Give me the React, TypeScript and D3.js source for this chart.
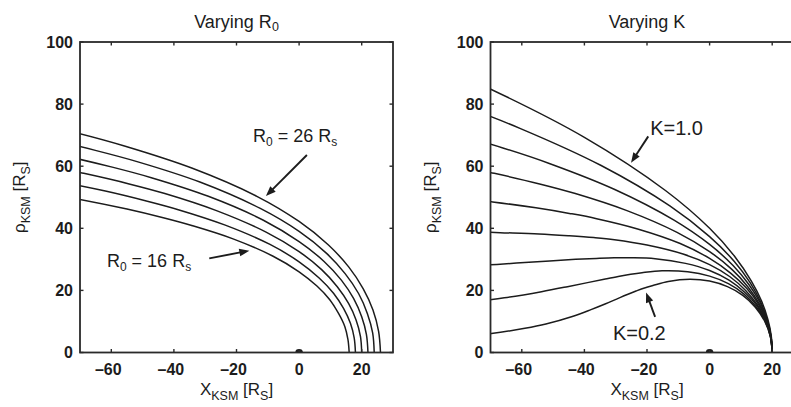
import React from 'react';
import * as d3 from 'd3';

// ---------- data ----------
const xTicks = [-60, -40, -20, 0, 20];
const yTicks = [0, 20, 40, 60, 80, 100];
const xDomain: [number, number] = [-70, 30];
const yDomain: [number, number] = [0, 100];

// Left panel: varying stand-off distance R0 (K fixed)
const r0Values = [16, 18, 20, 22, 24, 26];
const curveR0_16 = [[16,0],[15.6,4.2],[14.6,8.4],[12.6,12.6],[9.8,17.0],[5.7,21.4],[0,26.0],[-8.3,31.0],[-21.1,36.6],[-34.3,40.9],[-43.4,43.4],[-55.0,46.2],[-70.5,49.4],[-91.9,53.1]];
const curveR0_18 = [[18,0],[17.6,4.7],[16.4,9.4],[14.2,14.2],[11.0,19.1],[6.4,24.0],[0,29.2],[-9.3,34.8],[-23.8,41.1],[-38.6,46.0],[-48.8,48.8],[-61.9,52.0],[-79.3,55.5],[-103.4,59.7]];
const curveR0_20 = [[20,0],[19.6,5.2],[18.2,10.5],[15.8,15.8],[12.2,21.2],[7.2,26.7],[0,32.5],[-10.4,38.7],[-26.4,45.7],[-42.9,51.2],[-54.3,54.3],[-68.8,57.7],[-88.1,61.7]];
const curveR0_22 = [[22,0],[21.5,5.8],[20.0,11.5],[17.4,17.4],[13.5,23.3],[7.9,29.4],[0,35.7],[-11.4,42.6],[-29.0,50.3],[-47.2,56.3],[-59.7,59.7],[-75.7,63.5],[-96.9,67.9]];
const curveR0_24 = [[24,0],[23.5,6.3],[21.8,12.6],[19.0,19.0],[14.7,25.4],[8.6,32.1],[0,39.0],[-12.4,46.4],[-31.7,54.9],[-51.5,61.4],[-65.1,65.1],[-82.6,69.3]];
const curveR0_26 = [[26,0],[25.4,6.8],[23.6,13.7],[20.5,20.5],[15.9,27.5],[9.3,34.7],[0,42.2],[-13.5,50.3],[-34.3,59.4],[-55.8,66.5],[-70.6,70.6],[-89.5,75.1]];
const r0Curves = [curveR0_16, curveR0_18, curveR0_20, curveR0_22, curveR0_24, curveR0_26];

// Right panel: varying flaring exponent K (R0 = 20)
const kValues = [1.0, 0.9, 0.8, 0.7, 0.6, 0.5, 0.4, 0.3, 0.2];
const curveK10 = [[20,0],[19.7,5.3],[18.6,10.7],[16.6,16.6],[13.3,23.1],[8.2,30.7],[0,40.0],[-14.0,52.1],[-40.0,69.3],[-72.0,85.8],[-96.6,96.6]];
const curveK09 = [[20,0],[19.6,5.3],[18.4,10.6],[16.3,16.3],[13.0,22.4],[7.9,29.3],[0,37.3],[-12.7,47.2],[-34.8,60.3],[-60.6,72.2],[-79.7,79.7]];
const curveK08 = [[20,0],[19.6,5.2],[18.3,10.6],[16.1,16.1],[12.6,21.8],[7.5,28.0],[0,34.8],[-11.5,42.7],[-30.3,52.5],[-51.0,60.8],[-65.8,65.8],[-85.3,71.5]];
const curveK07 = [[20,0],[19.6,5.2],[18.2,10.5],[15.8,15.8],[12.2,21.2],[7.2,26.7],[0,32.5],[-10.4,38.7],[-26.4,45.7],[-42.9,51.2],[-54.3,54.3],[-68.8,57.7],[-88.1,61.7]];
const curveK06 = [[20,0],[19.5,5.2],[18.1,10.4],[15.6,15.6],[11.9,20.6],[6.8,25.5],[0,30.3],[-9.4,35.1],[-23.0,39.8],[-36.1,43.1],[-44.8,44.8],[-55.5,46.6],[-69.3,48.5],[-87.7,50.6]];
const curveK05 = [[20,0],[19.5,5.2],[17.9,10.4],[15.3,15.3],[11.5,20.0],[6.5,24.4],[0,28.3],[-8.5,31.7],[-20.0,34.6],[-30.4,36.3],[-37.0,37.0],[-44.8,37.6],[-54.5,38.2],[-66.9,38.6],[-83.8,39.1]];
const curveK04 = [[20,0],[19.5,5.2],[17.8,10.3],[15.1,15.1],[11.2,19.4],[6.2,23.3],[0,26.4],[-7.7,28.7],[-17.4,30.2],[-25.6,30.5],[-30.5,30.5],[-36.2,30.3],[-42.8,30.0],[-51.1,29.5],[-61.7,28.8],[-76.3,27.8]];
const curveK03 = [[20,0],[19.4,5.2],[17.7,10.2],[14.8,14.8],[10.9,18.9],[6.0,22.2],[0,24.6],[-7.0,26.0],[-15.2,26.3],[-21.6,25.7],[-25.2,25.2],[-29.2,24.5],[-33.7,23.6],[-39.0,22.5],[-45.4,21.2],[-53.7,19.6],[-65.6,17.6],[-85.2,15.0]];
const curveK02 = [[20,0],[19.4,5.2],[17.6,10.1],[14.6,14.6],[10.6,18.4],[5.7,21.2],[0,23.0],[-6.3,23.6],[-13.2,22.9],[-18.1,21.6],[-20.8,20.8],[-23.5,19.8],[-26.5,18.6],[-29.7,17.2],[-33.4,15.6],[-37.9,13.8],[-43.6,11.7],[-52.3,9.2],[-59.0,7.8],[-69.7,6.1],[-85.8,4.5]];
const kCurves = [curveK10, curveK09, curveK08, curveK07, curveK06, curveK05, curveK04, curveK03, curveK02];

// annotations (data coordinates)
const leftAnnots = [
  { main: 'R', sub1: '0', mid: ' = 26 R', sub2: 's', size: 18, text: [-14.7, 67.9], tail: [2.5, 63.6], tip: [-10.6, 50.4] },
  { main: 'R', sub1: '0', mid: ' = 16 R', sub2: 's', size: 18, text: [-61.4, 27.6], tail: [-28.7, 30.3], tip: [-15.9, 32.8] },
];
const rightAnnots = [
  { main: 'K=1.0', sub1: '', mid: '', sub2: '', size: 20, text: [-19.0, 70.0], tail: [-19.6, 69.6], tip: [-25.1, 61.1] },
  { main: 'K=0.2', sub1: '', mid: '', sub2: '', size: 20, text: [-30.9, 4.0], tail: [-17.4, 11.5], tip: [-20.3, 19.3] },
];

const FONT = 'Liberation Sans, Arial, Helvetica, sans-serif';
const INK = '#1c1c1c';

function Arrow({ x0, y0, x1, y1 }: { x0: number; y0: number; x1: number; y1: number }) {
  const dx = x1 - x0, dy = y1 - y0;
  const len = Math.hypot(dx, dy);
  const ux = dx / len, uy = dy / len;
  const nx = -uy, ny = ux;
  const L = 10, Wd = 3.8;
  const bx = x1 - ux * L, by = y1 - uy * L;
  const pts = `${x1},${y1} ${bx + nx * Wd},${by + ny * Wd} ${bx - nx * Wd},${by - ny * Wd}`;
  return (
    <g>
      <line x1={x0} y1={y0} x2={bx + ux * 2} y2={by + uy * 2} stroke={INK} strokeWidth={1.9} />
      <polygon points={pts} fill={INK} />
    </g>
  );
}

function Panel({ left, top, width, height, title, curves, annots, id }: any) {
  const x = d3.scaleLinear().domain(xDomain).range([left, left + width]);
  const y = d3.scaleLinear().domain(yDomain).range([top + height, top]);
  const line = d3.line<number[]>()
    .x((d) => x(d[0]))
    .y((d) => y(d[1]))
    .curve(d3.curveCatmullRom.alpha(0.5));
  const bottom = top + height;
  const right = left + width;
  const tl = 3.5;
  return (
    <g>
      <defs>
        <clipPath id={id}>
          <rect x={left} y={top} width={width} height={height} />
        </clipPath>
      </defs>
      <g clipPath={`url(#${id})`}>
        {curves.map((c: number[][], i: number) => (
          <path key={i} d={line(c) || ''} fill="none" stroke={INK} strokeWidth={1.5} />
        ))}
      </g>
      {/* planet at origin */}
      <path
        d={`M${x(0) - 3.8},${y(0)} A3.8,3.4 0 0 1 ${x(0) + 3.8},${y(0)} Z`}
        fill={INK}
      />
      {/* frame */}
      <rect x={left} y={top} width={width} height={height} fill="none" stroke="#2a2a2a" strokeWidth={1.8} />
      {/* ticks */}
      {xTicks.map((t) => (
        <g key={'xt' + t}>
          <line x1={x(t)} x2={x(t)} y1={bottom} y2={bottom - tl} stroke="#2a2a2a" strokeWidth={1.4} />
          <line x1={x(t)} x2={x(t)} y1={top} y2={top + tl} stroke="#2a2a2a" strokeWidth={1.4} />
          <text x={x(t) - (t < 0 ? 3 : 0)} y={bottom + 22} textAnchor="middle" fontFamily={FONT} fontSize={16} fontWeight="bold" fill={INK}>
            {t < 0 ? '\u2013' + Math.abs(t) : String(t)}
          </text>
        </g>
      ))}
      {yTicks.map((t) => (
        <g key={'yt' + t}>
          <line x1={left} x2={left + tl} y1={y(t)} y2={y(t)} stroke="#2a2a2a" strokeWidth={1.4} />
          <line x1={right} x2={right - tl} y1={y(t)} y2={y(t)} stroke="#2a2a2a" strokeWidth={1.4} />
          <text x={left - 7} y={y(t)} dy="0.36em" textAnchor="end" fontFamily={FONT} fontSize={16} fontWeight="bold" fill={INK}>
            {String(t)}
          </text>
        </g>
      ))}
      {/* title */}
      <text x={(left + right) / 2} y={28} textAnchor="middle" fontFamily={FONT} fontSize={18} fill={INK}>
        {title}
      </text>
      {/* x label */}
      <text x={(left + right) / 2} y={395} textAnchor="middle" fontFamily={FONT} fontSize={17} fill={INK}>
        X<tspan fontSize={12.5} dy={5}>KSM</tspan>
        <tspan dy={-5}> [R</tspan>
        <tspan fontSize={12.5} dy={5}>S</tspan>
        <tspan dy={-5}>]</tspan>
      </text>
      {/* y label */}
      <text
        transform={`translate(${left - 55},${(top + bottom) / 2}) rotate(-90)`}
        textAnchor="middle"
        fontFamily={FONT}
        fontSize={17}
        fill={INK}
      >
        ρ<tspan fontSize={12.5} dy={5}>KSM</tspan>
        <tspan dy={-5}> [R</tspan>
        <tspan fontSize={12.5} dy={5}>S</tspan>
        <tspan dy={-5}>]</tspan>
      </text>
      {/* annotations */}
      {annots.map((a: any, i: number) => (
        <g key={'an' + i}>
          <text x={x(a.text[0])} y={y(a.text[1])} fontFamily={FONT} fontSize={a.size} fill={INK}>
            {a.main}
            {a.sub1 ? <tspan fontSize={12} dy={4}>{a.sub1}</tspan> : null}
            {a.mid ? <tspan dy={a.sub1 ? -4 : 0}>{a.mid}</tspan> : null}
            {a.sub2 ? <tspan fontSize={12} dy={4}>{a.sub2}</tspan> : null}
          </text>
          <Arrow x0={x(a.tail[0])} y0={y(a.tail[1])} x1={x(a.tip[0])} y1={y(a.tip[1])} />
        </g>
      ))}
    </g>
  );
}

export default function App() {
  const W = 791, H = 407;
  return (
    <svg
      width={W}
      height={H}
      viewBox={`0 0 ${W} ${H}`}
      style={{ position: 'absolute', left: 0, top: 0, background: '#fff' }}
    >
      <rect x={0} y={0} width={W} height={H} fill="#fff" />
      <Panel
        id="clipL"
        left={80}
        top={42}
        width={313}
        height={310.5}
        curves={r0Curves}
        annots={leftAnnots}
        title={<>Varying R<tspan fontSize={12.5} dy={3}>0</tspan></>}
      />
      <Panel
        id="clipR"
        left={490.5}
        top={42}
        width={313}
        height={310.5}
        curves={kCurves}
        annots={rightAnnots}
        title={<>Varying K</>}
      />
    </svg>
  );
}
